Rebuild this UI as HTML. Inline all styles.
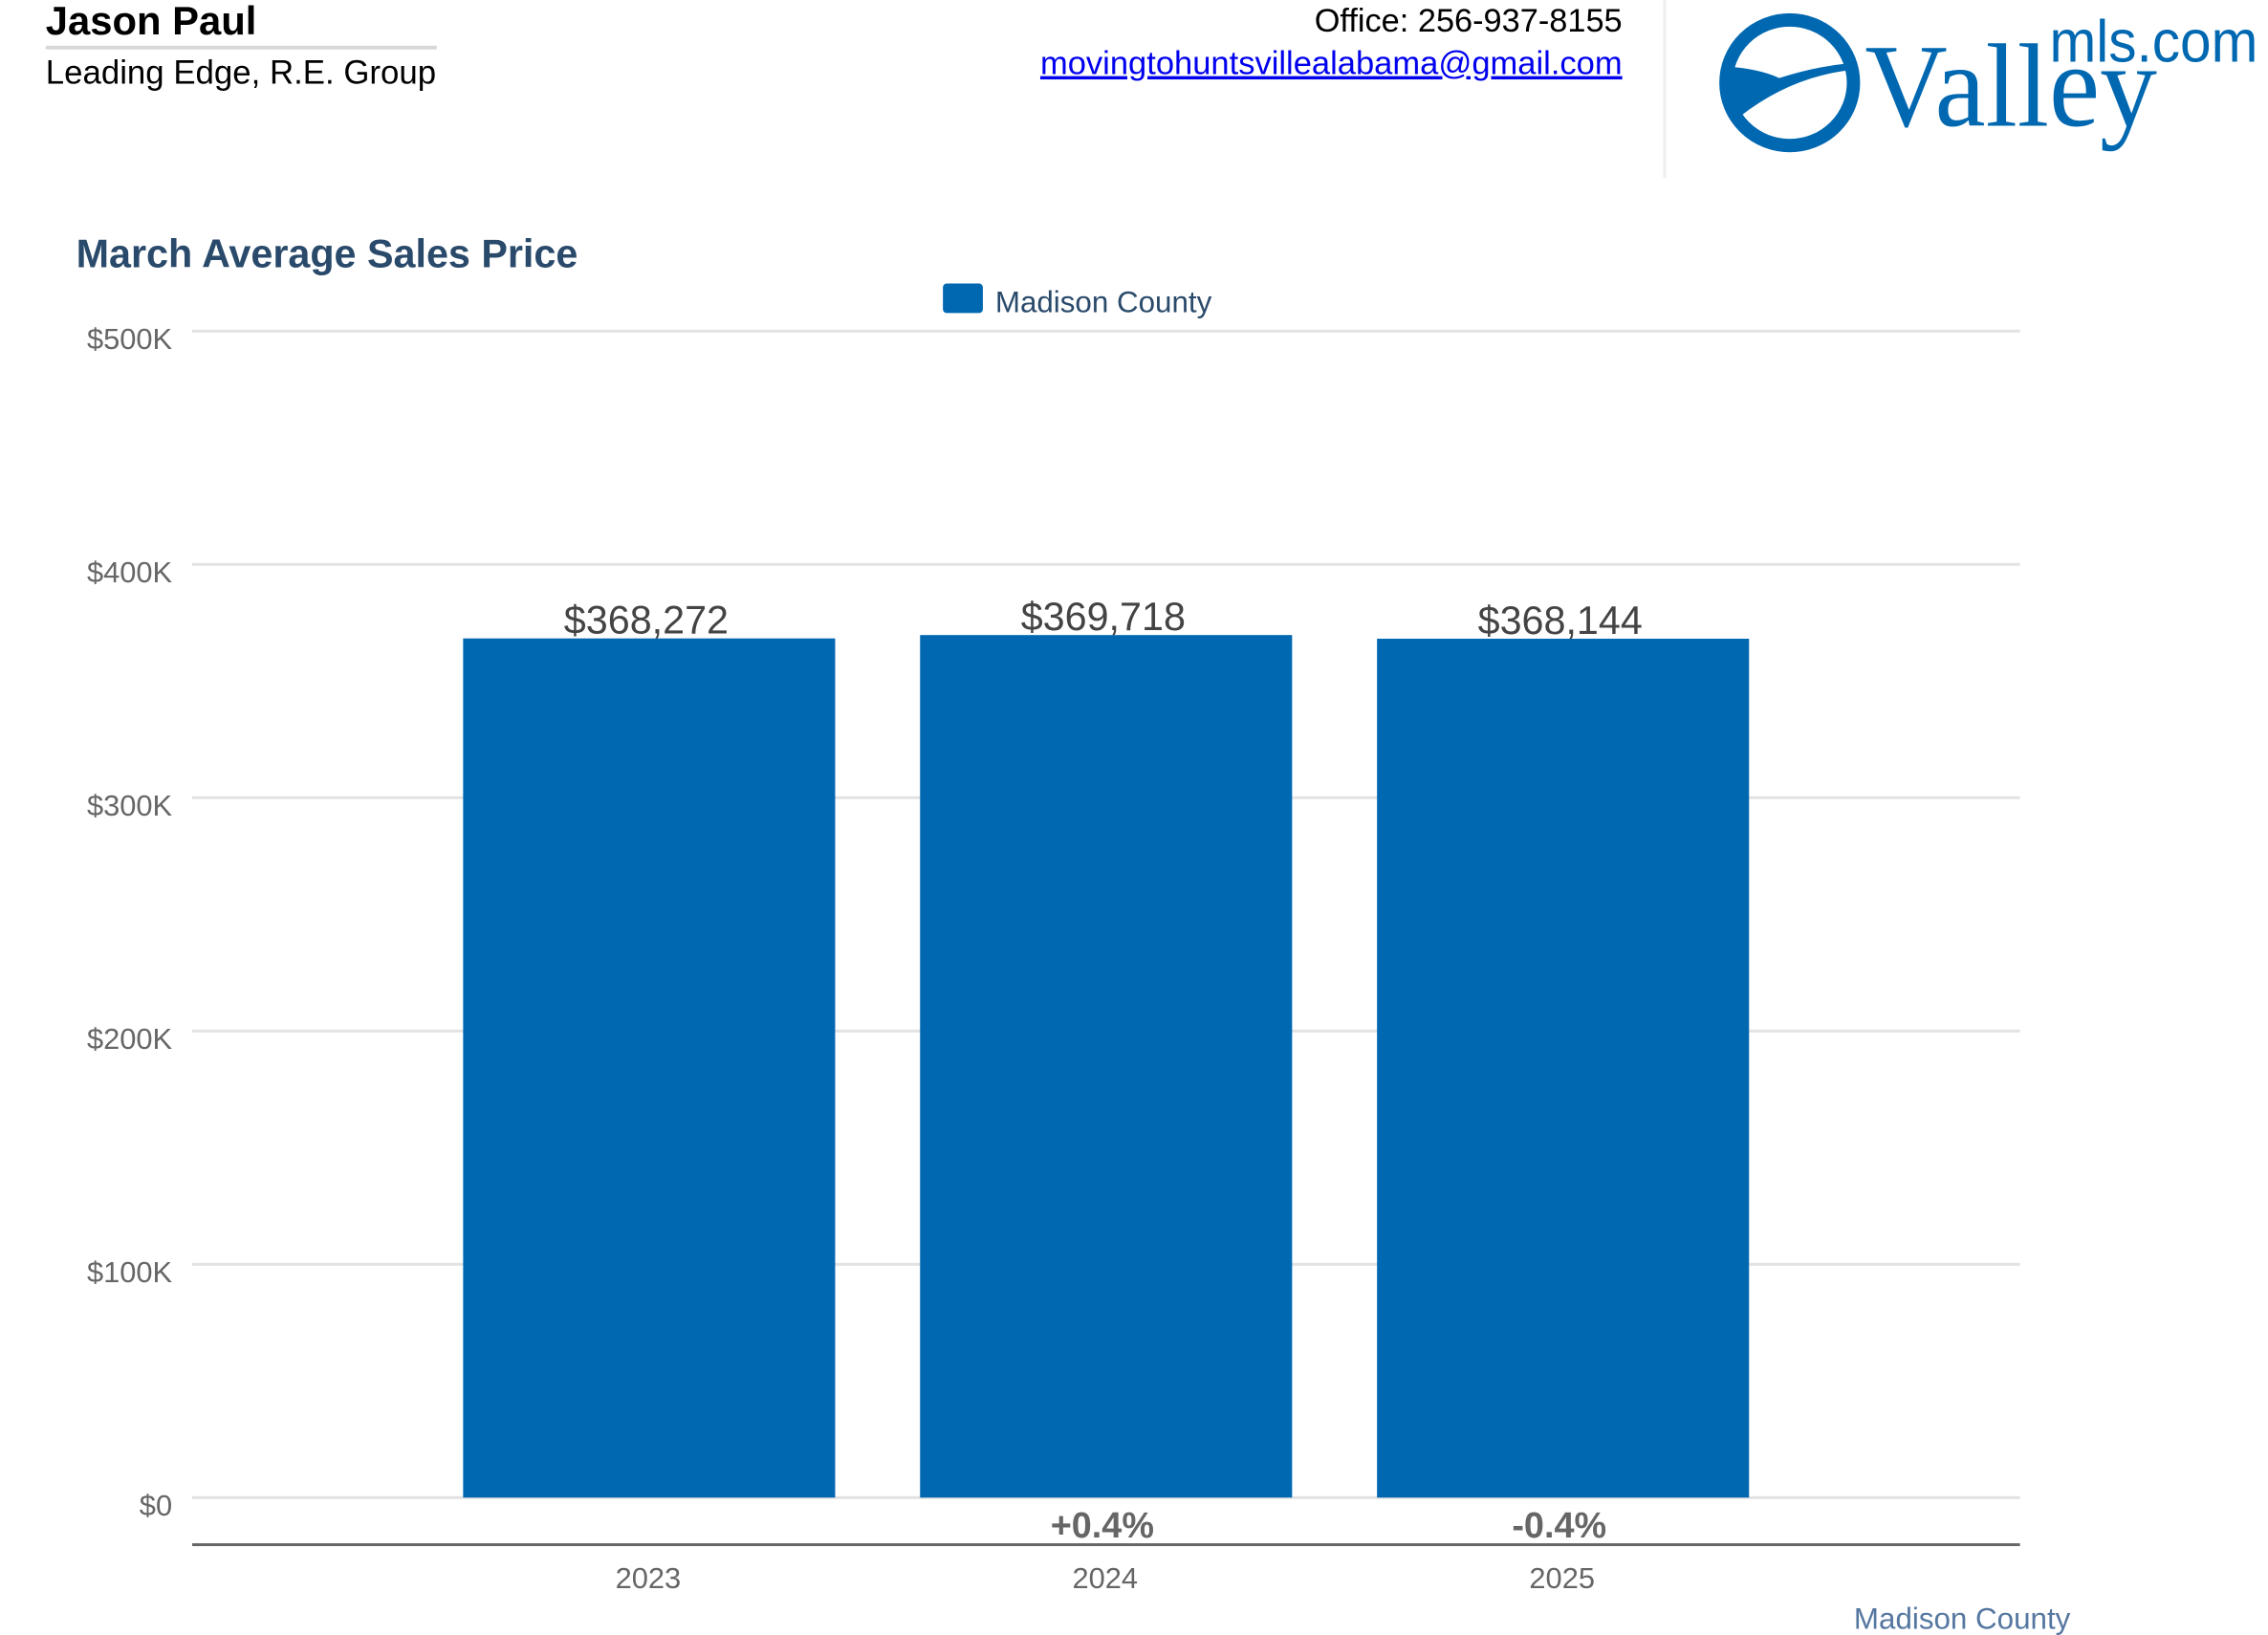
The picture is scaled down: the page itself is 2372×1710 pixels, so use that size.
<!DOCTYPE html>
<html><head><meta charset="utf-8"><style>
html,body{margin:0;padding:0;background:#fff;}
body{width:2372px;height:1710px;overflow:hidden;position:relative;font-family:"Liberation Sans",sans-serif;}
</style></head><body>
<svg width="2372" height="1710" viewBox="0 0 2372 1710" xmlns="http://www.w3.org/2000/svg" style="position:absolute;left:0;top:0" font-family="Liberation Sans, sans-serif">
 <g transform="scale(0.9951)">
  <g>
    <text x="48" y="36" font-size="42" font-weight="bold" fill="#000">Jason Paul</text>
    <rect x="48" y="48" width="411" height="4" fill="#d8d8d8"/>
    <text x="48" y="88" font-size="35" fill="#000">Leading Edge, R.E. Group</text>
    <text x="1705" y="33" font-size="34.5" fill="#000" text-anchor="end">Office: 256-937-8155</text>
    <a href="mailto:movingtohuntsvillealabama@gmail.com">
      <text x="1705" y="78" font-size="34.7" fill="#0000ee" text-anchor="end" text-decoration="underline">movingtohuntsvillealabama@gmail.com</text>
    </a>
    <rect x="1748" y="0" width="3" height="187" fill="#eeeeee"/>
  </g>
  <g>
    <ellipse cx="1881" cy="87" rx="67" ry="66" fill="none" stroke="#0068b1" stroke-width="14"/>
    <path d="M1815 70 Q1848 72 1870 82 Q1908 70 1940 67 L1942 74 Q1880 82 1828 123 L1814 110 Z" fill="#0068b1"/>
    <text x="1960" y="132" font-family="Liberation Serif, serif" font-size="125" fill="#0068b1" textLength="307" lengthAdjust="spacingAndGlyphs">Valley</text>
    <text x="2154" y="65" font-size="62" fill="#0068b1" textLength="219" lengthAdjust="spacingAndGlyphs">mls.com</text>
  </g>
  <text x="80" y="281" font-size="41.5" font-weight="bold" fill="#2a4a6b">March Average Sales Price</text>
  <g>
    <rect x="991" y="298" width="42" height="31" rx="4" fill="#0068b1"/>
    <text x="1046" y="328" font-size="31.5" fill="#2a4a6b">Madison County</text>
  </g>
  <g id="grid"></g>
  <g id="bars"></g>
  <rect x="202" y="1622" width="1921" height="3" fill="#666"/>
  <text x="2176" y="1712" font-size="31.5" fill="#5577a0" text-anchor="end">Madison County</text>
 </g>
</svg>
<script>
const categories = ["2023", "2024", "2025"];
const values = [368272, 369718, 368144];
const valueLabels = ["$368,272", "$369,718", "$368,144"];
const changeLabels = ["", "+0.4%", "-0.4%"];
const yTicks = [0, 100000, 200000, 300000, 400000, 500000];
const yTickLabels = ["$0", "$100K", "$200K", "$300K", "$400K", "$500K"];

const NS = "http://www.w3.org/2000/svg";
const x0 = 202, x1 = 2123, yBase = 1574, yTop = 348, yMax = 500000;
const y = v => yBase - (v / yMax) * (yBase - yTop);
const step = (x1 - x0) / (categories.length + 1);
const xc = i => x0 + (i + 1) * step;
const barW = 391;
function mk(tag, attrs, parent, text) {
  const e = document.createElementNS(NS, tag);
  for (const k in attrs) e.setAttribute(k, attrs[k]);
  if (text !== undefined) e.textContent = text;
  parent.appendChild(e);
  return e;
}
const grid = document.getElementById("grid");
yTicks.forEach((t, i) => {
  const l = mk("rect", {x: x0, y: y(t) - 1.5, width: x1 - x0, height: 3, fill: "#e2e2e2"}, grid);
  
  
  const tx = mk("text", {x: 181, y: y(t) + 19, "font-size": 31, fill: "#666", "text-anchor": "end"}, grid, yTickLabels[i]);
  
  
});
const bars = document.getElementById("bars");
categories.forEach((c, i) => {
  const cx = xc(i);
  const b = mk("rect", {x: cx - barW / 2, y: y(values[i]), width: barW, height: yBase - y(values[i]), fill: "#0068b1"}, bars);
  
  
  const vl = mk("text", {x: cx - 3, y: y(values[i]) - 5, "font-size": 41.5, fill: "#444", "text-anchor": "middle"}, bars, valueLabels[i]);
  
  
  if (changeLabels[i]) {
    const cl = mk("text", {x: cx - 4, y: 1616, "font-size": 38, "font-weight": "bold", fill: "#666", "text-anchor": "middle"}, bars, changeLabels[i]);
    
    
  }
  const xl = mk("text", {x: cx - 1, y: 1669, "font-size": 31, fill: "#666", "text-anchor": "middle"}, bars, c);
  
  
});
</script>
</body></html>
